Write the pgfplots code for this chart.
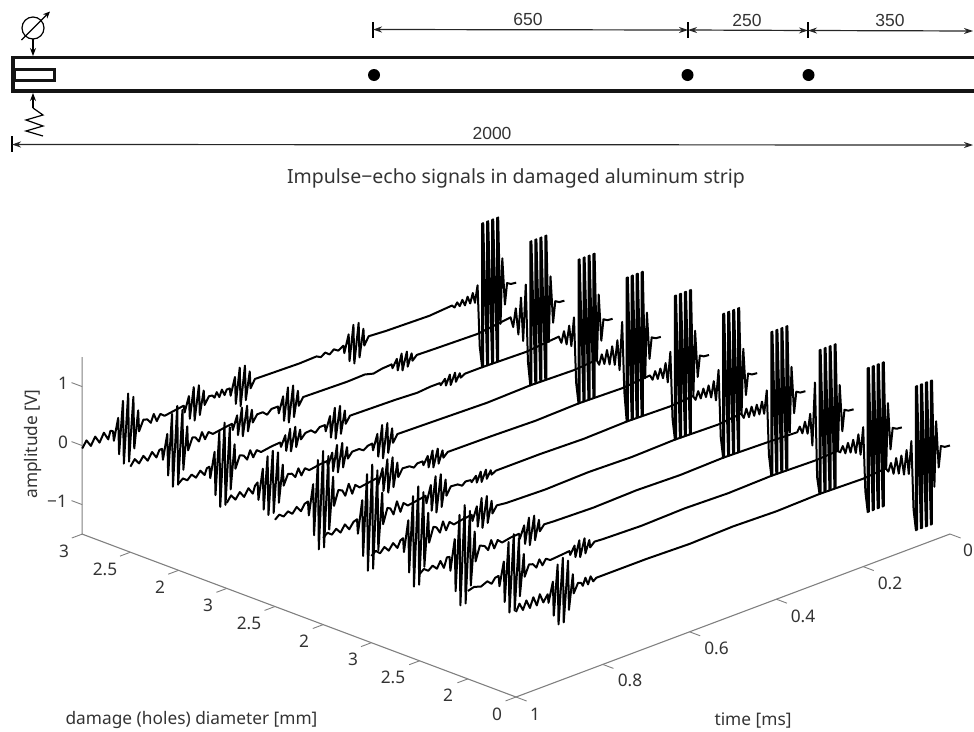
\documentclass[border=0pt]{standalone}
\usepackage{pgfplots}
\pgfplotsset{compat=1.18}
\usepackage{fontspec}
\setmainfont{Noto Sans}
\newfontfamily\dimf{Liberation Sans}
\usetikzlibrary{arrows.meta}
\definecolor{txt}{HTML}{333333}
\definecolor{axl}{HTML}{808080}
\newcommand\fsz{\fontsize{17.3}{17.3}\selectfont}
\newcommand\dsz{\dimf\fontsize{17.5}{17.5}\selectfont}
\tikzset{tk/.style={font=\fsz,text=txt,inner sep=0pt},dk/.style={font=\dsz,text=txt,inner sep=0pt},
 dl/.style={line width=1.2pt,draw=black!85,{Stealth[length=9pt,width=6pt]}-{Stealth[length=9pt,width=6pt]}}}
\pgfplotsset{tr/.style={black,line width=2pt,line join=round,no marks,solid}}
\begin{document}
\begin{tikzpicture}
\begin{scope}[x=1pt,y=-1pt]
% strip
\draw[line width=3.2pt,draw=black!92] (974,57.5)--(13,57.5)--(13,91)--(974,91);
\draw[line width=3pt,draw=black!92] (14,69)rectangle(54,80);
\fill[black] (374,75)circle(6)(687.5,75)circle(6)(808.5,75)circle(6);
% dimensions
\draw[line width=1.1pt] (373,22)--(373,38) (688,22)--(688,38) (808,22)--(808,38);
\draw[dl] (373,29.5)--(688,30);
\draw[dl] (688,30)--(808,30.5);
\draw[dl] (808,30.5)--(973,31);
\node[dk] at (528,19.5){650};
\node[dk] at (747,20){250};
\node[dk] at (890,20.5){350};
\draw[line width=1.1pt] (12,136)--(12,152);
\draw[dl] (12,144.5)--(973,145);
\node[dk] at (492,133){2000};
% meter and resistor
\draw[line width=1.2pt] (33,28)circle(11);
\draw[line width=1.2pt,-{Stealth[length=7pt,width=6pt]}] (21.5,40)--(50,11.5);
\draw[line width=1.2pt,-{Stealth[length=8pt,width=6pt]}] (33,39)--(33,56);
\draw[line width=1.2pt,-{Stealth[length=8pt,width=6pt]}] (33,108)--(33,93);
\draw[line width=1.2pt] (33,108)--(43,115)--(26,120)--(43,126)--(26,131)--(43,136);
% title
\node[font=\fontsize{19.5}{20}\selectfont,text=txt,inner sep=0pt] at (516,178){Impulse−echo signals in damaged aluminum strip};
% tick labels
\node[tk] at (63,383){1};\node[tk] at (63,442){0};\node[tk] at (57,501){−1};
\node[tk] at (64,551){3};\node[tk] at (105,569){2.5};\node[tk] at (160,587){2};
\node[tk] at (208,605){3};\node[tk] at (249,623){2.5};\node[tk] at (304,641){2};
\node[tk] at (353,659){3};\node[tk] at (393,677){2.5};\node[tk] at (448,695){2};
\node[tk] at (497,714){0};
\node[tk] at (535,714){1};\node[tk] at (630,680.5){0.8};\node[tk] at (716.5,648){0.6};
\node[tk] at (803,616){0.4};\node[tk] at (890,583){0.2};\node[tk] at (968,550){0};
\node[tk] at (753,720){time [ms]};
\node[tk] at (191.5,720){damage (holes) diameter [mm]};
\node[tk,rotate=90] at (33,444){amplitude [V]};
\end{scope}
\begin{axis}[hide axis,clip=false,anchor=origin,at={(950pt,-445.5pt)},disabledatascaling,
 x={(-434pt,-163pt)},y={(-48.2pt,18.1pt)},z={(0pt,59pt)},
 xmin=0,xmax=1,ymin=0,ymax=9,zmin=-1.5,zmax=1.5,unbounded coords=jump]
% axes lines and ticks
\addplot3[axl,line width=1.1pt,no marks] coordinates {(0,0,-1.5)(1,0,-1.5)(1,9,-1.5)(1,9,1.5)};
\addplot3[axl,line width=0.9pt,no marks] coordinates {
(0,0,-1.5)(0,-.22,-1.5)(nan,nan,nan)(.2,0,-1.5)(.2,-.22,-1.5)(nan,nan,nan)(.4,0,-1.5)(.4,-.22,-1.5)(nan,nan,nan)
(.6,0,-1.5)(.6,-.22,-1.5)(nan,nan,nan)(.8,0,-1.5)(.8,-.22,-1.5)(nan,nan,nan)(1,0,-1.5)(1,-.22,-1.5)(nan,nan,nan)
(1,0,-1.5)(1.024,0,-1.5)(nan,nan,nan)(1,1,-1.5)(1.024,1,-1.5)(nan,nan,nan)(1,2,-1.5)(1.024,2,-1.5)(nan,nan,nan)
(1,3,-1.5)(1.024,3,-1.5)(nan,nan,nan)(1,4,-1.5)(1.024,4,-1.5)(nan,nan,nan)(1,5,-1.5)(1.024,5,-1.5)(nan,nan,nan)
(1,6,-1.5)(1.024,6,-1.5)(nan,nan,nan)(1,7,-1.5)(1.024,7,-1.5)(nan,nan,nan)(1,8,-1.5)(1.024,8,-1.5)(nan,nan,nan)
(1,9,-1.5)(1.024,9,-1.5)(nan,nan,nan)
(1,9,-1)(1,9.22,-1)(nan,nan,nan)(1,9,0)(1,9.22,0)(nan,nan,nan)(1,9,1)(1,9.22,1)};
% trace p=0
\addplot3[tr] coordinates {(1,0,-.06)(.992,0,.06)(.984,0,-.07)(.976,0,.07)(.968,0,-.08)(.96,0,.08)(.952,0,-.08)(.945,0,.09)(.937,0,-.07)
(.927,0,.04)(.925,0,-.11)(.915,0,.22)(.913,0,-.36)(.904,0,.48)(.902,0,-.54)(.892,0,.56)(.890,0,-.54)(.880,0,.48)(.878,0,-.36)(.869,0,.22)(.867,0,-.11)(.857,0,.04)
(.85,0,.02)(.846,0,-.04)(.84,0,.08)(.834,0,-.05)(.828,0,.07)(.822,0,-.03)(.815,0,.01)(.7,0,.01)(.6,0,-.01)(.5,0,.01)(.4,0,-.01)(.3,0,.01)(.2,0,-.01)
(.148,0,.02)(.142,0,-.05)(.136,0,.08)(.130,0,-.12)(.124,0,.13)(.118,0,-.15)(.112,0,.14)(.106,0,-.2)(.100,0,.2)(.095,0,-.22)(.089,0,.32)
(.084,0,-.85)(.0785,0,-1.22)(.0785,0,1.22)(.076,0,-1.22)(.076,0,1.22)(.067,0,-1.22)(.067,0,1.22)(.0645,0,-1.22)(.0645,0,1.22)(.0555,0,-1.22)(.0555,0,1.22)(.053,0,-1.22)(.053,0,1.22)(.044,0,-1.22)(.044,0,1.22)(.0415,0,-1.22)(.0415,0,1.22)(.036,0,-.6)(.032,0,.5)(.026,0,-.3)(.021,0,.05)(.012,0,.01)(0,0,0)};
% trace p=1
\addplot3[tr] coordinates {(1,1,-.01)(.985,1,.02)(.97,1,-.02)(.955,1,.03)(.945,1,-.04)(.937,1,.04)
(.929,1,.05)(.927,1,-.13)(.917,1,.26)(.915,1,-.43)(.906,1,.56)(.904,1,-.64)(.894,1,.66)(.892,1,-.64)(.882,1,.56)(.880,1,-.43)(.871,1,.26)(.869,1,-.13)(.859,1,.05)
(.85,1,.03)(.842,1,-.05)(.835,1,.07)(.828,1,-.05)(.82,1,.04)(.81,1,-.01)(.78,1,.01)
(.766,1,.02)(.764,1,-.05)(.754,1,.08)(.752,1,-.12)(.743,1,.14)(.741,1,-.15)(.731,1,.14)(.729,1,-.12)(.720,1,.08)(.718,1,-.05)(.708,1,.02)
(.69,1,.01)(.6,1,-.01)(.5,1,.01)(.4,1,-.01)(.3,1,.01)(.2,1,-.01)
(.148,1,.01)(.142,1,-.03)(.136,1,.06)(.130,1,-.08)(.124,1,.08)(.118,1,-.1)(.112,1,.1)(.106,1,-.14)(.100,1,.16)(.095,1,-.2)(.089,1,.25)
(.084,1,-.85)(.0785,1,-1.22)(.0785,1,1.22)(.076,1,-1.22)(.076,1,1.22)(.067,1,-1.22)(.067,1,1.22)(.0645,1,-1.22)(.0645,1,1.22)(.0555,1,-1.22)(.0555,1,1.22)(.053,1,-1.22)(.053,1,1.22)(.044,1,-1.22)(.044,1,1.22)(.0415,1,-1.22)(.0415,1,1.22)(.036,1,-.6)(.032,1,.5)(.026,1,-.3)(.021,1,.05)(.012,1,.01)(0,1,0)};
% trace p=2
\addplot3[tr] coordinates {(1,2,-.03)(.99,2,.03)(.98,2,-.03)(.97,2,.03)(.96,2,-.05)(.952,2,.06)(.944,2,-.08)(.937,2,.08)
(.931,2,.07)(.929,2,-.17)(.919,2,.34)(.917,2,-.55)(.908,2,.72)(.906,2,-.82)(.896,2,.85)(.894,2,-.82)(.884,2,.72)(.882,2,-.55)(.873,2,.34)(.871,2,-.17)(.861,2,.07)
(.85,2,.03)(.842,2,-.06)(.835,2,.09)(.828,2,-.07)(.82,2,.05)(.81,2,-.02)(.79,2,.01)
(.771,2,.02)(.769,2,-.07)(.759,2,.13)(.757,2,-.19)(.748,2,.23)(.746,2,-.24)(.736,2,.23)(.734,2,-.19)(.725,2,.13)(.723,2,-.07)(.713,2,.02)
(.69,2,.01)(.6,2,-.01)(.5,2,.01)(.4,2,-.01)(.3,2,.01)(.2,2,-.01)
(.130,2,-.03)(.124,2,.05)(.118,2,-.08)(.112,2,.1)(.106,2,-.12)(.100,2,.2)(.095,2,-.35)(.089,2,.7)
(.084,2,-.92)(.0785,2,-1.22)(.0785,2,1.22)(.076,2,-1.22)(.076,2,1.22)(.067,2,-1.22)(.067,2,1.22)(.0645,2,-1.22)(.0645,2,1.22)(.0555,2,-1.22)(.0555,2,1.22)(.053,2,-1.22)(.053,2,1.22)(.044,2,-1.22)(.044,2,1.22)(.0415,2,-1.22)(.0415,2,1.22)(.036,2,-.6)(.032,2,.5)(.026,2,-.3)(.021,2,.05)(.012,2,.01)(0,2,0)};
% trace p=3
\addplot3[tr] coordinates {(1,3,-.03)(.99,3,.03)(.98,3,-.04)(.97,3,.04)(.96,3,-.05)(.95,3,.05)(.94,3,-.06)(.933,3,.05)
(.927,3,.07)(.925,3,-.17)(.915,3,.34)(.913,3,-.55)(.904,3,.72)(.902,3,-.82)(.892,3,.85)(.890,3,-.82)(.880,3,.72)(.878,3,-.55)(.869,3,.34)(.867,3,-.17)(.857,3,.07)
(.85,3,.04)(.842,3,-.07)(.835,3,.1)(.828,3,-.07)(.82,3,.05)(.81,3,-.02)(.79,3,.01)
(.769,3,.03)(.767,3,-.08)(.757,3,.14)(.755,3,-.21)(.746,3,.25)(.744,3,-.26)(.734,3,.25)(.732,3,-.21)(.723,3,.14)(.721,3,-.08)(.711,3,.03)
(.69,3,.01)(.6,3,-.01)(.5,3,.01)(.4,3,-.01)(.3,3,.01)(.2,3,-.01)
(.148,3,.03)(.142,3,-.06)(.136,3,.08)(.130,3,-.08)(.124,3,.08)(.118,3,-.09)(.112,3,.08)(.106,3,-.1)(.100,3,.1)(.095,3,-.12)(.089,3,.26)
(.084,3,-.85)(.0785,3,-1.22)(.0785,3,1.22)(.076,3,-1.22)(.076,3,1.22)(.067,3,-1.22)(.067,3,1.22)(.0645,3,-1.22)(.0645,3,1.22)(.0555,3,-1.22)(.0555,3,1.22)(.053,3,-1.22)(.053,3,1.22)(.044,3,-1.22)(.044,3,1.22)(.0415,3,-1.22)(.0415,3,1.22)(.036,3,-.6)(.032,3,.5)(.026,3,-.3)(.021,3,.05)(.012,3,.01)(0,3,0)};
% trace p=4
\addplot3[tr] coordinates {(1,4,-.03)(.99,4,.03)(.98,4,-.03)(.97,4,.04)(.96,4,-.05)(.95,4,.06)(.94,4,-.05)(.93,4,.05)
(.922,4,.07)(.920,4,-.18)(.910,4,.36)(.908,4,-.59)(.899,4,.77)(.897,4,-.87)(.887,4,.9)(.885,4,-.87)(.875,4,.77)(.873,4,-.59)(.864,4,.36)(.862,4,-.18)(.852,4,.07)
(.845,4,.04)(.838,4,-.08)(.83,4,.12)(.822,4,-.08)(.815,4,.05)(.805,4,-.02)(.78,4,.01)
(.764,4,.03)(.762,4,-.1)(.752,4,.18)(.750,4,-.26)(.741,4,.3)(.739,4,-.32)(.729,4,.3)(.727,4,-.26)(.718,4,.18)(.716,4,-.1)(.706,4,.03)
(.69,4,.02)(.68,4,-.03)(.672,4,.02)
(.660,4,.01)(.658,4,-.03)(.648,4,.05)(.646,4,-.07)(.637,4,.09)(.635,4,-.09)(.625,4,.09)(.623,4,-.07)(.614,4,.05)(.612,4,-.03)(.602,4,.01)
(.5,4,.01)(.4,4,-.01)(.3,4,.01)(.2,4,-.01)
(.148,4,.02)(.142,4,-.06)(.136,4,.07)(.130,4,-.07)(.124,4,.08)(.118,4,-.08)(.112,4,.1)(.106,4,-.12)(.100,4,.14)(.095,4,-.2)(.089,4,.3)
(.084,4,-.85)(.0785,4,-1.22)(.0785,4,1.22)(.076,4,-1.22)(.076,4,1.22)(.067,4,-1.22)(.067,4,1.22)(.0645,4,-1.22)(.0645,4,1.22)(.0555,4,-1.22)(.0555,4,1.22)(.053,4,-1.22)(.053,4,1.22)(.044,4,-1.22)(.044,4,1.22)(.0415,4,-1.22)(.0415,4,1.22)(.036,4,-.6)(.032,4,.5)(.026,4,-.3)(.021,4,.05)(.012,4,.01)(0,4,0)};
% trace p=5
\addplot3[tr] coordinates {(1,5,-.03)(.99,5,.03)(.98,5,-.03)(.97,5,.03)(.96,5,-.04)(.95,5,.05)(.94,5,-.05)(.932,5,.05)
(.924,5,.07)(.922,5,-.17)(.912,5,.33)(.910,5,-.54)(.901,5,.71)(.899,5,-.81)(.889,5,.83)(.887,5,-.81)(.877,5,.71)(.875,5,-.54)(.866,5,.33)(.864,5,-.17)(.854,5,.07)
(.845,5,.04)(.838,5,-.07)(.83,5,.11)(.822,5,-.08)(.815,5,.05)(.805,5,-.02)(.78,5,.01)
(.764,5,.03)(.762,5,-.09)(.752,5,.16)(.750,5,-.23)(.741,5,.28)(.739,5,-.29)(.729,5,.28)(.727,5,-.23)(.718,5,.16)(.716,5,-.09)(.706,5,.03)
(.69,5,.02)(.68,5,-.03)(.672,5,.02)
(.660,5,.02)(.658,5,-.05)(.648,5,.08)(.646,5,-.12)(.637,5,.14)(.635,5,-.15)(.625,5,.14)(.623,5,-.12)(.614,5,.08)(.612,5,-.05)(.602,5,.02)
(.5,5,.01)(.4,5,-.01)(.3,5,.01)(.2,5,-.01)
(.136,5,.03)(.130,5,-.06)(.124,5,.07)(.118,5,-.08)(.112,5,.08)(.106,5,-.1)(.100,5,.14)(.095,5,-.2)(.089,5,.3)
(.084,5,-.85)(.0785,5,-1.22)(.0785,5,1.22)(.076,5,-1.22)(.076,5,1.22)(.067,5,-1.22)(.067,5,1.22)(.0645,5,-1.22)(.0645,5,1.22)(.0555,5,-1.22)(.0555,5,1.22)(.053,5,-1.22)(.053,5,1.22)(.044,5,-1.22)(.044,5,1.22)(.0415,5,-1.22)(.0415,5,1.22)(.036,5,-.6)(.032,5,.5)(.026,5,-.3)(.021,5,.05)(.012,5,.01)(0,5,0)};
% trace p=6
\addplot3[tr] coordinates {(1,6,-.05)(.99,6,.05)(.98,6,-.05)(.97,6,.05)(.96,6,-.06)(.95,6,.06)(.94,6,-.06)(.935,6,.06)
(.929,6,.1)(.927,6,-.2)(.917,6,.3)(.915,6,-.4)(.906,6,.48)(.904,6,-.52)(.894,6,.54)(.892,6,-.52)(.882,6,.48)(.880,6,-.38)(.871,6,.24)(.869,6,-.12)(.859,6,.05)
(.85,6,.03)(.842,6,-.05)(.835,6,.08)(.828,6,-.06)(.82,6,.04)(.81,6,-.02)(.785,6,.01)
(.769,6,.02)(.767,6,-.07)(.757,6,.13)(.755,6,-.19)(.746,6,.23)(.744,6,-.24)(.734,6,.23)(.732,6,-.19)(.723,6,.13)(.721,6,-.07)(.711,6,.02)
(.695,6,.02)(.685,6,-.03)(.675,6,.02)
(.665,6,.03)(.663,6,-.09)(.653,6,.16)(.651,6,-.23)(.642,6,.28)(.640,6,-.29)(.630,6,.28)(.628,6,-.23)(.619,6,.16)(.617,6,-.09)(.607,6,.03)
(.5,6,.01)(.4,6,-.01)(.3,6,.01)(.2,6,-.01)
(.148,6,.02)(.142,6,-.08)(.136,6,.08)(.130,6,-.1)(.124,6,.12)(.118,6,-.14)(.112,6,.15)(.106,6,-.18)(.100,6,.22)(.095,6,-.3)(.089,6,.5)
(.084,6,-.7)(.0785,6,-1.22)(.0785,6,1.22)(.076,6,-1.22)(.076,6,1.22)(.067,6,-1.22)(.067,6,1.22)(.0645,6,-1.22)(.0645,6,1.22)(.0555,6,-1.22)(.0555,6,1.22)(.053,6,-1.22)(.053,6,1.22)(.044,6,-1.22)(.044,6,1.22)(.0415,6,-1.22)(.0415,6,1.22)(.036,6,-.6)(.032,6,.5)(.026,6,-.3)(.021,6,.05)(.012,6,.01)(0,6,0)};
% trace p=7
\addplot3[tr] coordinates {(1,7,-.03)(.99,7,.03)(.98,7,-.03)(.97,7,.04)(.96,7,-.04)(.95,7,.05)(.94,7,-.05)(.935,7,.05)
(.929,7,.06)(.927,7,-.14)(.917,7,.28)(.915,7,-.46)(.906,7,.6)(.904,7,-.69)(.894,7,.71)(.892,7,-.69)(.882,7,.6)(.880,7,-.46)(.871,7,.28)(.869,7,-.14)(.859,7,.06)
(.85,7,.03)(.842,7,-.06)(.835,7,.08)(.828,7,-.06)(.82,7,.04)(.81,7,-.02)(.785,7,.01)
(.766,7,.02)(.764,7,-.06)(.754,7,.11)(.752,7,-.16)(.743,7,.19)(.741,7,-.2)(.731,7,.19)(.729,7,-.16)(.720,7,.11)(.718,7,-.06)(.708,7,.02)
(.695,7,.03)(.685,7,-.04)(.675,7,.03)
(.663,7,.03)(.661,7,-.08)(.651,7,.15)(.649,7,-.22)(.640,7,.26)(.638,7,-.27)(.628,7,.26)(.626,7,-.22)(.617,7,.15)(.615,7,-.08)(.605,7,.03)
(.5,7,.01)(.45,7,-.01)(.42,7,.01)
(.398,7,.01)(.396,7,-.03)(.386,7,.05)(.384,7,-.07)(.375,7,.09)(.373,7,-.09)(.363,7,.09)(.361,7,-.07)(.352,7,.05)(.350,7,-.03)(.340,7,.01)
(.3,7,.01)(.2,7,-.01)
(.124,7,.04)(.118,7,-.08)(.112,7,.1)(.106,7,-.14)(.100,7,.16)(.095,7,-.2)(.089,7,.27)
(.084,7,-.85)(.0785,7,-1.22)(.0785,7,1.22)(.076,7,-1.22)(.076,7,1.22)(.067,7,-1.22)(.067,7,1.22)(.0645,7,-1.22)(.0645,7,1.22)(.0555,7,-1.22)(.0555,7,1.22)(.053,7,-1.22)(.053,7,1.22)(.044,7,-1.22)(.044,7,1.22)(.0415,7,-1.22)(.0415,7,1.22)(.036,7,-.6)(.032,7,.5)(.026,7,-.3)(.021,7,.05)(.012,7,.01)(0,7,0)};
% trace p=8
\addplot3[tr] coordinates {(1,8,-.05)(.99,8,.05)(.98,8,-.05)(.97,8,.05)(.96,8,-.06)(.95,8,.06)(.94,8,-.06)(.933,8,.05)
(.927,8,.05)(.925,8,-.14)(.915,8,.27)(.913,8,-.44)(.904,8,.58)(.902,8,-.66)(.892,8,.68)(.890,8,-.66)(.880,8,.58)(.878,8,-.44)(.869,8,.27)(.867,8,-.14)(.857,8,.05)
(.85,8,.03)(.842,8,-.06)(.835,8,.08)(.828,8,-.06)(.82,8,.04)(.81,8,-.02)(.785,8,.01)
(.766,8,.03)(.764,8,-.08)(.754,8,.14)(.752,8,-.2)(.743,8,.24)(.741,8,-.25)(.731,8,.24)(.729,8,-.2)(.720,8,.14)(.718,8,-.08)(.708,8,.03)
(.695,8,.03)(.685,8,-.04)(.675,8,.03)
(.660,8,.03)(.658,8,-.09)(.648,8,.17)(.646,8,-.25)(.637,8,.29)(.635,8,-.31)(.625,8,.29)(.623,8,-.25)(.614,8,.17)(.612,8,-.09)(.602,8,.03)
(.5,8,.01)(.46,8,.02)(.44,8,-.02)(.42,8,.01)
(.398,8,.02)(.396,8,-.05)(.386,8,.08)(.384,8,-.12)(.375,8,.14)(.373,8,-.15)(.363,8,.14)(.361,8,-.12)(.352,8,.08)(.350,8,-.05)(.340,8,.02)
(.3,8,.01)(.2,8,-.01)
(.124,8,.06)(.118,8,-.12)(.112,8,.18)(.106,8,-.28)(.100,8,.33)(.095,8,-.42)(.089,8,.52)
(.084,8,-.8)(.0785,8,-1.22)(.0785,8,1.22)(.076,8,-1.22)(.076,8,1.22)(.067,8,-1.22)(.067,8,1.22)(.0645,8,-1.22)(.0645,8,1.22)(.0555,8,-1.22)(.0555,8,1.22)(.053,8,-1.22)(.053,8,1.22)(.044,8,-1.22)(.044,8,1.22)(.0415,8,-1.22)(.0415,8,1.22)(.036,8,-.6)(.032,8,.5)(.026,8,-.3)(.021,8,.05)(.012,8,.01)(0,8,0)};
% trace p=9
\addplot3[tr] coordinates {(1,9,-.05)(.99,9,.06)(.98,9,-.06)(.97,9,.07)(.96,9,-.06)(.95,9,.08)(.94,9,-.06)(.935,9,.07)
(.929,9,.05)(.927,9,-.12)(.917,9,.24)(.915,9,-.38)(.906,9,.5)(.904,9,-.57)(.894,9,.59)(.892,9,-.57)(.882,9,.5)(.880,9,-.38)(.871,9,.24)(.869,9,-.12)(.859,9,.05)
(.85,9,.03)(.842,9,-.05)(.835,9,.08)(.828,9,-.06)(.82,9,.04)(.81,9,-.02)(.785,9,.01)
(.766,9,.03)(.764,9,-.09)(.754,9,.16)(.752,9,-.23)(.743,9,.28)(.741,9,-.29)(.731,9,.28)(.729,9,-.23)(.720,9,.16)(.718,9,-.09)(.708,9,.03)
(.70,9,.02)(.695,9,-.03)(.69,9,.05)(.684,9,-.05)(.678,9,.06)(.672,9,-.05)(.667,9,.03)
(.660,9,.03)(.658,9,-.1)(.648,9,.19)(.646,9,-.27)(.637,9,.32)(.635,9,-.34)(.625,9,.32)(.623,9,-.27)(.614,9,.19)(.612,9,-.1)(.602,9,.03)
(.5,9,.01)(.46,9,.02)(.45,9,-.02)(.44,9,.03)(.43,9,-.03)(.42,9,.03)(.41,9,-.02)
(.398,9,.03)(.396,9,-.1)(.386,9,.19)(.384,9,-.27)(.375,9,.32)(.373,9,-.34)(.363,9,.32)(.361,9,-.27)(.352,9,.19)(.350,9,-.1)(.340,9,.03)
(.3,9,.01)(.2,9,-.01)
(.148,9,.02)(.142,9,-.03)(.136,9,.04)(.130,9,-.04)(.124,9,.05)(.118,9,-.06)(.112,9,.07)(.106,9,-.06)(.100,9,.1)(.095,9,-.08)(.089,9,.2)
(.084,9,-.85)(.0785,9,-1.22)(.0785,9,1.22)(.076,9,-1.22)(.076,9,1.22)(.067,9,-1.22)(.067,9,1.22)(.0645,9,-1.22)(.0645,9,1.22)(.0555,9,-1.22)(.0555,9,1.22)(.053,9,-1.22)(.053,9,1.22)(.044,9,-1.22)(.044,9,1.22)(.0415,9,-1.22)(.0415,9,1.22)(.036,9,-.6)(.032,9,.5)(.026,9,-.3)(.021,9,.05)(.012,9,.01)(0,9,0)};
\end{axis}
\pgfresetboundingbox
\path (0pt,0pt) rectangle (974pt,-731pt);
\end{tikzpicture}
\end{document}
